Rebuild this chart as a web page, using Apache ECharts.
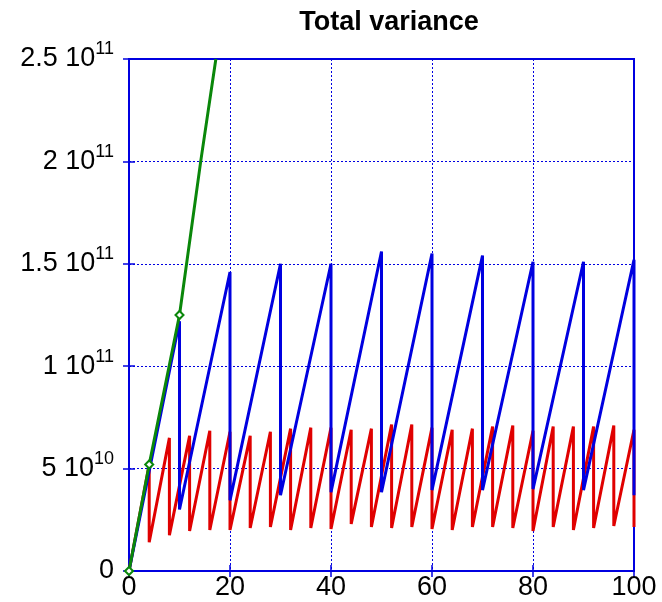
<!DOCTYPE html>
<html>
<head>
<meta charset="utf-8">
<script src="https://cdn.jsdelivr.net/npm/echarts@6/dist/echarts.min.js"></script>
<style>
  html, body { margin: 0; padding: 0; background: #fff; }
  #chart { width: 662px; height: 602px; }
</style>
</head>
<body>
<div id="chart"></div>
<script>
// Blue series: ramps up and resets every 10 steps
const blueResetX = [10, 20, 30, 40, 50, 60, 70, 80, 90, 100];
const bluePeak   = [1.22e11, 1.46e11, 1.50e11, 1.50e11, 1.56e11, 1.55e11, 1.54e11, 1.51e11, 1.51e11, 1.52e11];
const blueTrough = [3.0e10, 3.45e10, 3.7e10, 3.85e10, 3.85e10, 3.95e10, 3.95e10, 4.0e10, 3.95e10, 3.7e10];

// Red series: ramps up and resets every 4 steps
const redResetX = [4, 8, 12, 16, 20, 24, 28, 32, 36, 40, 44, 48, 52, 56, 60, 64, 68, 72, 76, 80, 84, 88, 92, 96, 100];
const redPeak   = [5.2e10, 6.5e10, 6.6e10, 6.85e10, 6.8e10, 6.6e10, 6.8e10, 6.95e10, 7.0e10, 7.0e10, 6.9e10, 6.95e10, 7.15e10,
                   7.15e10, 7.0e10, 6.9e10, 6.95e10, 7.05e10, 7.1e10, 6.85e10, 7.05e10, 7.05e10, 7.05e10, 7.1e10, 6.9e10];
const redTrough = [1.4e10, 1.75e10, 1.95e10, 2.0e10, 2.0e10, 2.1e10, 2.15e10, 2.0e10, 2.1e10, 2.05e10, 2.3e10, 2.15e10, 2.1e10,
                   2.15e10, 2.05e10, 2.0e10, 2.15e10, 2.15e10, 2.1e10, 1.95e10, 2.15e10, 2.0e10, 2.1e10, 2.2e10, 2.15e10];

// Green series: cumulative, never resets
const greenX = [0, 4, 10, 14.2, 17.2];
const greenY = [0, 5.2e10, 1.25e11, 2.0e11, 2.5e11];
const greenMarked = [0, 1, 2];

// Axis ticks
const xTicks = [0, 20, 40, 60, 80, 100];
const yTickLabels = {
  0: '0',
  5e10: '5 10^10',
  1e11: '1 10^11',
  1.5e11: '1.5 10^11',
  2e11: '2 10^11',
  2.5e11: '2.5 10^11'
};

function sawtooth(resetX, peak, trough) {
  const pts = [[0, 0]];
  resetX.forEach((x, i) => {
    pts.push([x, peak[i]]);
    pts.push([x, trough[i]]);
  });
  return pts;
}

const blueData = sawtooth(blueResetX, bluePeak, blueTrough);
const redData = sawtooth(redResetX, redPeak, redTrough);
const greenData = greenX.map((x, i) => ({
  value: [x, greenY[i]],
  symbol: greenMarked.includes(i) ? 'emptyDiamond' : 'none'
}));

const BLUE = '#0000e0';
const FONT = 'Liberation Sans, Arial, Helvetica, sans-serif';

function yLabel(v) {
  const s = yTickLabels[v];
  if (s === undefined) return '';
  const parts = s.split('^');
  if (parts.length === 1) return '{b|' + s + '}';
  return '{b|' + parts[0] + '}{s|' + parts[1] + '}';
}

const chart = echarts.init(document.getElementById('chart'), null, { renderer: 'canvas' });
chart.setOption({
  animation: false,
  backgroundColor: '#ffffff',
  title: {
    text: 'Total variance',
    left: 384,
    top: 4,
    textAlign: 'center',
    textStyle: { fontFamily: FONT, fontSize: 27, fontWeight: 'bold', color: '#000' }
  },
  grid: {
    left: 129, right: 28, top: 59, bottom: 31,
    show: true, borderColor: BLUE, borderWidth: 2, backgroundColor: 'transparent'
  },
  xAxis: [{
    type: 'value', min: 0, max: 100, interval: 20,
    axisLine: { show: false },
    axisTick: { show: true, inside: true, length: 6, lineStyle: { color: BLUE, width: 1.5 } },
    axisLabel: {
      margin: 3, fontFamily: FONT, fontSize: 27, color: '#000',
      formatter: v => xTicks.includes(v) ? String(v) : ''
    },
    splitLine: { show: true, lineStyle: { color: BLUE, type: [2, 2], width: 1 } }
  }, {
    type: 'value', position: 'top', min: 0, max: 100, interval: 20,
    axisLine: { show: false },
    axisTick: { show: true, inside: true, length: 6, lineStyle: { color: BLUE, width: 1.5 } },
    axisLabel: { show: false },
    splitLine: { show: false }
  }],
  yAxis: [{
    type: 'value', min: 0, max: 2.5e11, interval: 5e10,
    axisLine: { show: false },
    axisTick: { show: true, inside: true, length: 6, lineStyle: { color: BLUE, width: 1.5 } },
    axisLabel: {
      margin: 15, formatter: yLabel,
      rich: {
        b: { fontFamily: FONT, fontSize: 27, color: '#000' },
        s: { fontFamily: FONT, fontSize: 18, color: '#000', padding: [0, 0, 19, 0] }
      }
    },
    splitLine: { show: true, lineStyle: { color: BLUE, type: [2, 2], width: 1 } }
  }, {
    type: 'value', position: 'right', min: 0, max: 2.5e11, interval: 5e10,
    axisLine: { show: false },
    axisTick: { show: true, inside: true, length: 6, lineStyle: { color: BLUE, width: 1.5 } },
    axisLabel: { show: false },
    splitLine: { show: false }
  }],
  series: [{
    name: 'red', type: 'line', data: redData, showSymbol: false,
    lineStyle: { color: '#e00000', width: 3 }, itemStyle: { color: '#e00000' }
  }, {
    name: 'blue', type: 'line', data: blueData, showSymbol: false,
    lineStyle: { color: BLUE, width: 3 }, itemStyle: { color: BLUE }
  }, {
    name: 'green', type: 'line', data: greenData, showSymbol: true, symbolSize: 8,
    lineStyle: { color: '#0a870a', width: 3 },
    itemStyle: { color: '#0a870a', borderWidth: 1 }
  }]
});
</script>
</body>
</html>
